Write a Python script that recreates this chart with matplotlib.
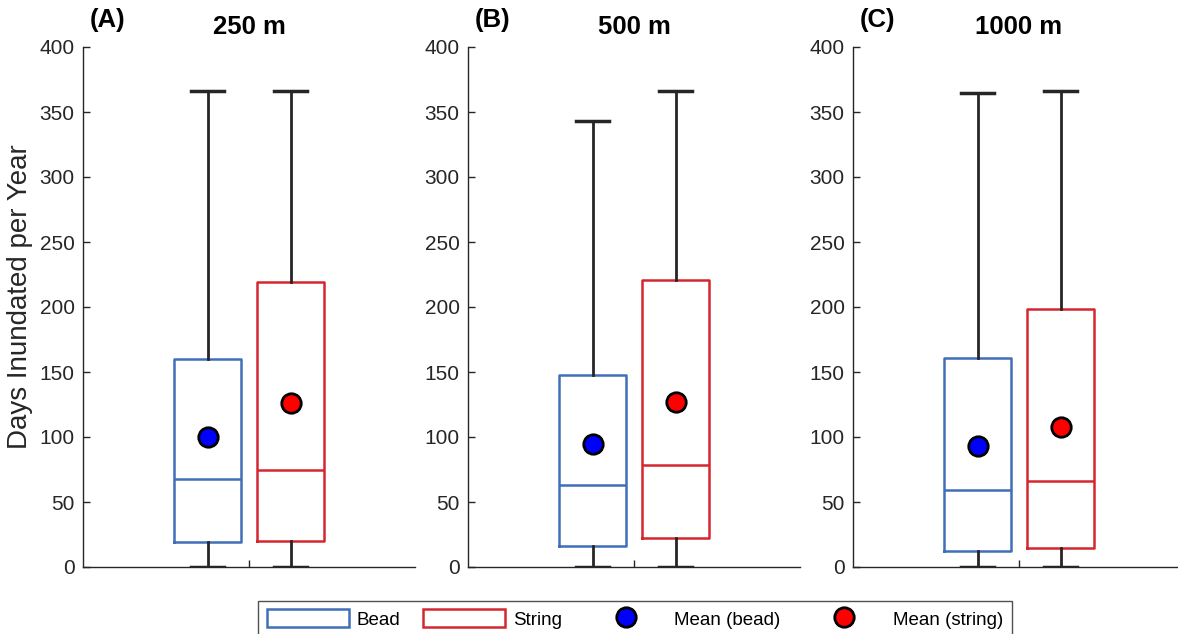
import numpy as np
import matplotlib
matplotlib.use('Agg')
import matplotlib.pyplot as plt
from matplotlib.patches import Patch
from matplotlib.lines import Line2D

plt.rcParams['font.family'] = ['Liberation Sans', 'DejaVu Sans']

# datos (dias inundados por ano)
paneles = ['(A)', '(B)', '(C)']
titulos = ['250 m', '500 m', '1000 m']
grupos = ['Bead', 'String']

bead_min = [0, 0, 0]
bead_q1 = [19, 16, 12]
bead_med = [68, 63, 59]
bead_q3 = [160, 148, 161]
bead_max = [366, 343, 365]
bead_mean = [100, 94.5, 93]

string_min = [0, 0, 0]
string_q1 = [20, 22, 15]
string_med = [74.5, 78.5, 66]
string_q3 = [219.5, 221, 198.5]
string_max = [366, 366, 366]
string_mean = [126, 127, 108]

azul = '#3f6fb8'
rojo = '#d4262e'
gris = '#262626'

fig = plt.figure(figsize=(11.78, 6.34), dpi=100)
izq = [83, 468, 853]
W, H = 1178, 634

for k in range(3):
    ax = fig.add_axes([izq[k]/W, 1-567/H, 332/W, 520/H])
    stats = [
        dict(whislo=bead_min[k], q1=bead_q1[k], med=bead_med[k], q3=bead_q3[k],
             whishi=bead_max[k], mean=bead_mean[k], fliers=[]),
        dict(whislo=string_min[k], q1=string_q1[k], med=string_med[k], q3=string_q3[k],
             whishi=string_max[k], mean=string_mean[k], fliers=[]),
    ]
    bp = ax.bxp(stats, positions=[1, 2], widths=0.8, showmeans=True,
                patch_artist=False,
                whiskerprops=dict(color=gris, lw=2),
                capprops=dict(color=gris, lw=2.5),
                meanprops=dict(marker='o', markersize=14, markeredgecolor='k',
                               markeredgewidth=2),
                capwidths=0.4)
    for i, c in enumerate([azul, rojo]):
        bp['boxes'][i].set_color(c)
        bp['boxes'][i].set_linewidth(1.8)
        bp['medians'][i].set_color(c)
        bp['medians'][i].set_linewidth(1.8)
        bp['means'][i].set_markerfacecolor(['#0000ff', '#ff0000'][i])
    ax.set_xlim(-0.5, 3.5)
    ax.set_ylim(0, 400)
    ax.set_xticks([1.5])
    ax.set_xticklabels([])
    ax.set_yticks(np.arange(0, 401, 50))
    ax.tick_params(direction='in', length=5, width=1, colors=gris, labelsize=15,
                   labelcolor=gris, pad=6)
    ax.spines['top'].set_visible(False)
    ax.spines['right'].set_visible(False)
    for s in ['left', 'bottom']:
        ax.spines[s].set_color(gris)
        ax.spines[s].set_linewidth(1)
    ax.set_title(titulos[k], fontsize=18.5, fontweight='bold', pad=9)
    ax.text(0.02, 1.052, paneles[k], transform=ax.transAxes, fontsize=18.5,
            fontweight='bold', va='center', ha='left')
    if k == 0:
        ax.set_ylabel('Days Inundated per Year', fontsize=20, color=gris)
        ax.yaxis.set_label_coords(-0.15, 0.52)

handles = [
    Patch(facecolor='white', edgecolor=azul, lw=1.8, label='Bead'),
    Patch(facecolor='white', edgecolor=rojo, lw=1.8, label='String'),
    Line2D([], [], ls='none', marker='o', markersize=14, markerfacecolor='#0000ff',
           markeredgecolor='k', markeredgewidth=2, label='Mean (bead)'),
    Line2D([], [], ls='none', marker='o', markersize=14, markerfacecolor='#ff0000',
           markeredgecolor='k', markeredgewidth=2, label='Mean (string)'),
]
leg = fig.legend(handles=handles, loc='upper center', bbox_to_anchor=(635/W, 1-601/H),
                 ncols=4, fontsize=13.5, frameon=True, fancybox=False, edgecolor=gris,
                 handlelength=4.4, handleheight=1.1, handletextpad=0.4,
                 columnspacing=1.2, borderpad=0.45, borderaxespad=0)
leg.get_frame().set_linewidth(1)

fig.savefig('out.png', dpi=100)
